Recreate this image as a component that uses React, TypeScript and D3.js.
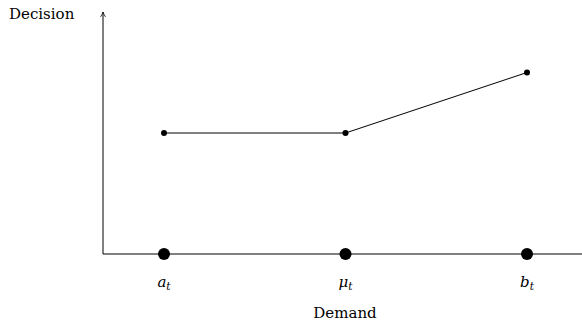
import React, { useEffect, useRef } from 'react';
import * as d3 from 'd3';

// demand levels along the x axis
const categories = ['a', 'μ', 'b'];
// decision made at each demand level
const decisions = [2, 2, 3];
const yMax = 4;

const App = () => {
    const svgRef = useRef<SVGSVGElement | null>(null);

    useEffect(() => {
        const svg = d3.select(svgRef.current);
        svg.selectAll('*').remove();

        const width = 582;
        const left = 103;
        const baseline = 254;
        const font = 'DejaVu Serif, Liberation Serif, serif';

        const x = d3.scalePoint<string>()
            .domain(categories)
            .range([164, 527]);

        const y = d3.scaleLinear()
            .domain([0, yMax])
            .range([baseline, 12]);

        svg.append('defs')
            .append('marker')
            .attr('id', 'arrow')
            .attr('viewBox', '0 0 10 10')
            .attr('refX', 9)
            .attr('refY', 5)
            .attr('markerWidth', 7)
            .attr('markerHeight', 7)
            .attr('orient', 'auto')
            .append('path')
            .attr('d', 'M2,1.5 Q6,4 9,5 Q6,6 2,8.5')
            .attr('fill', 'none')
            .attr('stroke', 'black')
            .attr('stroke-width', 1.1);

        // y axis with arrow
        svg.append('line')
            .attr('x1', left).attr('x2', left)
            .attr('y1', baseline).attr('y2', y(yMax))
            .attr('stroke', 'black')
            .attr('stroke-width', 1)
            .attr('marker-end', 'url(#arrow)');

        // x axis
        svg.append('line')
            .attr('x1', left).attr('x2', width)
            .attr('y1', baseline).attr('y2', baseline)
            .attr('stroke', 'black')
            .attr('stroke-width', 1);

        const line = d3.line<number>()
            .x((d, i) => x(categories[i]) as number)
            .y(d => y(d));

        svg.append('path')
            .datum(decisions)
            .attr('fill', 'none')
            .attr('stroke', 'black')
            .attr('stroke-width', 1)
            .attr('d', line);

        svg.selectAll('.pt')
            .data(decisions)
            .join('circle')
            .attr('class', 'pt')
            .attr('cx', (d, i) => x(categories[i]) as number)
            .attr('cy', d => y(d))
            .attr('r', 3)
            .attr('fill', 'black');

        svg.selectAll('.base')
            .data(categories)
            .join('circle')
            .attr('class', 'base')
            .attr('cx', d => x(d) as number)
            .attr('cy', y(0))
            .attr('r', 6)
            .attr('fill', 'black');

        const labels = svg.selectAll('.lab')
            .data(categories)
            .join('text')
            .attr('class', 'lab')
            .attr('x', d => x(d) as number)
            .attr('y', 287)
            .attr('text-anchor', 'middle')
            .attr('font-family', font)
            .attr('font-size', 15)
            .attr('font-style', 'italic');
        labels.append('tspan').text(d => d);
        labels.append('tspan')
            .attr('dy', 3)
            .attr('font-size', 10.5)
            .text('t');

        svg.append('text')
            .attr('x', 345)
            .attr('y', 318)
            .attr('text-anchor', 'middle')
            .attr('font-family', font)
            .attr('font-size', 15)
            .text('Demand');

        svg.append('text')
            .attr('x', 9)
            .attr('y', 19)
            .attr('font-family', font)
            .attr('font-size', 15)
            .text('Decision');
    }, []);

    return (
        <svg ref={svgRef} width={582} height={322}
            style={{ position: 'absolute', left: 0, top: 0, background: 'white' }} />
    );
};

export default App;
